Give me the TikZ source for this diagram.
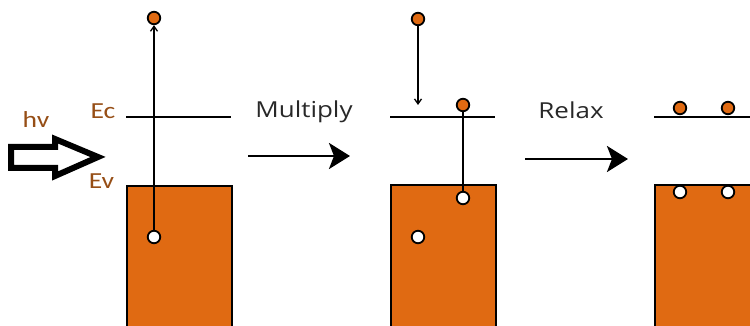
\documentclass[tikz,border=0pt]{standalone}
\usepackage{fontspec}
\setmainfont{Carlito}
\newfontfamily\labfont{Open Sans}
\usetikzlibrary{arrows.meta}
\definecolor{bandor}{RGB}{224,106,18}
\definecolor{labbrown}{RGB}{150,78,22}
\definecolor{txtgray}{RGB}{40,40,40}
\tikzset{
  band/.style={draw=black,line width=1.6pt,fill=bandor,anchor=north west,inner sep=0pt},
  elec/.style={circle,draw=black,line width=1.8pt,fill=bandor,minimum size=12.5pt,inner sep=0pt},
  hole/.style={circle,draw=black,line width=1.8pt,fill=white,minimum size=12.5pt,inner sep=0pt},
  level/.style={line width=2pt},
  trans/.style={line width=1.3pt},
  thinarrow/.style={line width=1.3pt,-{Straight Barb[length=5pt,width=7pt]}},
  steparrow/.style={line width=2.8pt,-{Stealth[length=21pt,width=26pt,inset=5pt]}},
  elab/.style={text=labbrown,font=\fontsize{23}{25}\selectfont,inner sep=0pt,anchor=base},
  plab/.style={text=txtgray,font=\labfont\fontsize{22}{25}\selectfont,inner sep=0pt,anchor=base}
}
\begin{document}
\begin{tikzpicture}[x=1pt,y=-1pt]
\useasboundingbox (0,0) rectangle (750,326);
\clip (0,0) rectangle (750,326);
% panel 1
\node[band,minimum width=105pt,minimum height=160pt] (b1) at (126,185) {};
\coordinate (c1a) at (126,117); \coordinate (c1b) at (231,117);
\draw[level] (c1a) -- (c1b);
\node[elec] (e1) at (154,18) {};
\node[hole] (h1) at (154,237) {};
\draw[thinarrow] (h1) -- (e1);
\node[elab] (ec) at (103,119) {\scalebox{1.2}[1]{Ec}};
\node[elab] (ev) at (101.5,189) {\scalebox{1.2}[1]{Ev}};
\node[elab] (hv) at (36,128) {\scalebox{1.2}[1]{hv}};
\draw[line width=6pt,line join=miter,fill=white] (11,147) -- (55,147) -- (55,139) -- (98,157) -- (55,176) -- (55,168) -- (11,168) -- cycle;
% step 1
\coordinate (m1) at (248,156); \coordinate (m2) at (350,156);
\draw[steparrow] (m1) -- (m2);
\node[plab] (mul) at (304,118) {\scalebox{1.18}[1]{Multiply}};
% panel 2
\node[band,minimum width=105pt,minimum height=160pt] (b2) at (390,184) {};
\coordinate (c2a) at (390,117); \coordinate (c2b) at (495,117);
\draw[level] (c2a) -- (c2b);
\node[elec] (e2) at (418,19) {};
\coordinate (d2) at (418,105);
\draw[thinarrow] (e2) -- (d2);
\node[elec] (e3) at (463,105) {};
\node[hole] (h3) at (463,198) {};
\node[hole] (h2) at (418,237) {};
\draw[trans] (e3) -- (h3);
% step 2
\coordinate (r1) at (525,159); \coordinate (r2) at (628,159);
\draw[steparrow] (r1) -- (r2);
\node[plab] (rel) at (571,119) {\scalebox{1.18}[1]{Relax}};
% panel 3
\node[band,minimum width=120pt,minimum height=160pt] (b3) at (654,184) {};
\coordinate (c3a) at (654,117); \coordinate (c3b) at (760,117);
\draw[level] (c3a) -- (c3b);
\node[elec] (e4) at (680,108) {};
\node[elec] (e5) at (728,108) {};
\node[hole] (h4) at (680,192) {};
\node[hole] (h5) at (728,192) {};
\end{tikzpicture}
\end{document}
